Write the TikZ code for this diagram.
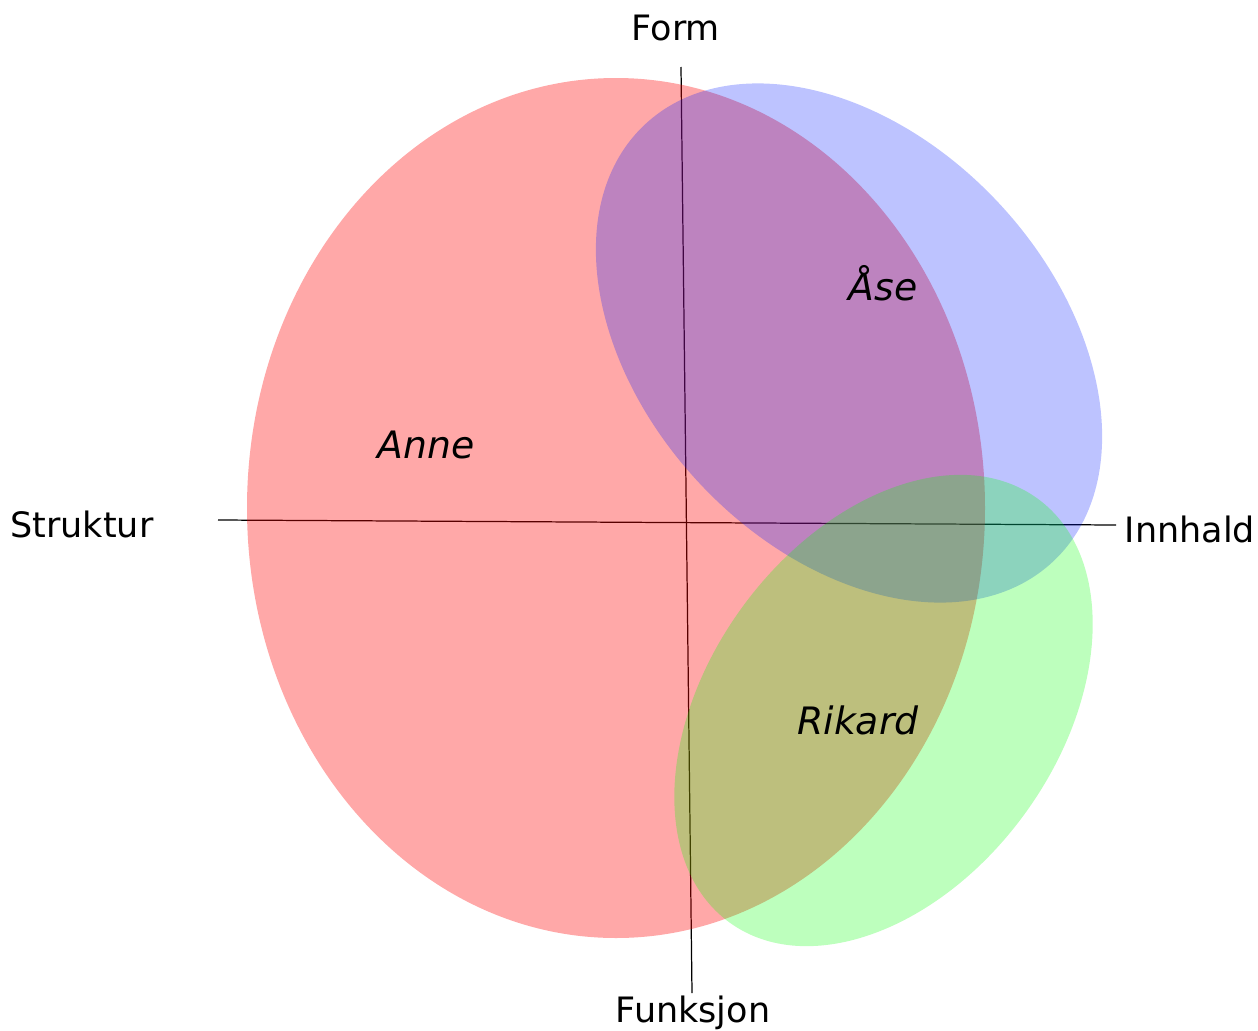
\documentclass[tikz,border=0pt]{standalone}
\usepackage{fontspec}
\setmainfont{DejaVu Sans}
\usepackage{tikz}
\definecolor{asecol}{RGB}{0,25,255}

\begin{document}
\begin{tikzpicture}[
    x=0.02cm, y=-0.02cm,
    axisline/.style={draw=black, line width=0.7pt},
    axislabel/.style={font=\fontsize{19.9}{23}\selectfont, anchor=base, inner sep=0pt},
    personlabel/.style={font=\fontsize{21.5}{25}\selectfont\itshape, anchor=base, inner sep=0pt},
    annefill/.style={fill=red, fill opacity=0.34},
    asefill/.style={fill=asecol, fill opacity=0.26},
    rikardfill/.style={fill=green, fill opacity=0.26},
]
\useasboundingbox (0,0) rectangle (1258,1031);

% Axes (under the ellipses)
\coordinate (formend) at (681,67);
\coordinate (funkend) at (692,993);
\coordinate (strend) at (218,520);
\coordinate (innend) at (1116,525);
\draw[axisline] (formend) -- (funkend);
\draw[axisline] (strend) -- (innend);

% Axis labels
\node[axislabel] (form) at (676,40) {Form};
\node[axislabel] (funksjon) at (693,1022) {Funksjon};
\node[axislabel] (struktur) at (82,537) {Struktur};
\node[axislabel] (innhald) at (1190,542) {Innhald};

% Anne
\fill[annefill] (616,508) ellipse [x radius=369, y radius=430];

% Aase
\begin{scope}[shift={(849,343)}, rotate=-47]
  \fill[asefill] (0,0) ellipse [x radius=299, y radius=205];
\end{scope}

% Rikard
\begin{scope}[shift={(883.5,710.5)}, rotate=54]
  \fill[rikardfill] (0,0) ellipse [x radius=262, y radius=175];
\end{scope}

% Names
\node[personlabel] (anne) at (426,458) {Anne};
\node[personlabel] (ase) at (883,300) {Åse};
\node[personlabel] (rikard) at (858,734) {Rikard};

\end{tikzpicture}
\end{document}
